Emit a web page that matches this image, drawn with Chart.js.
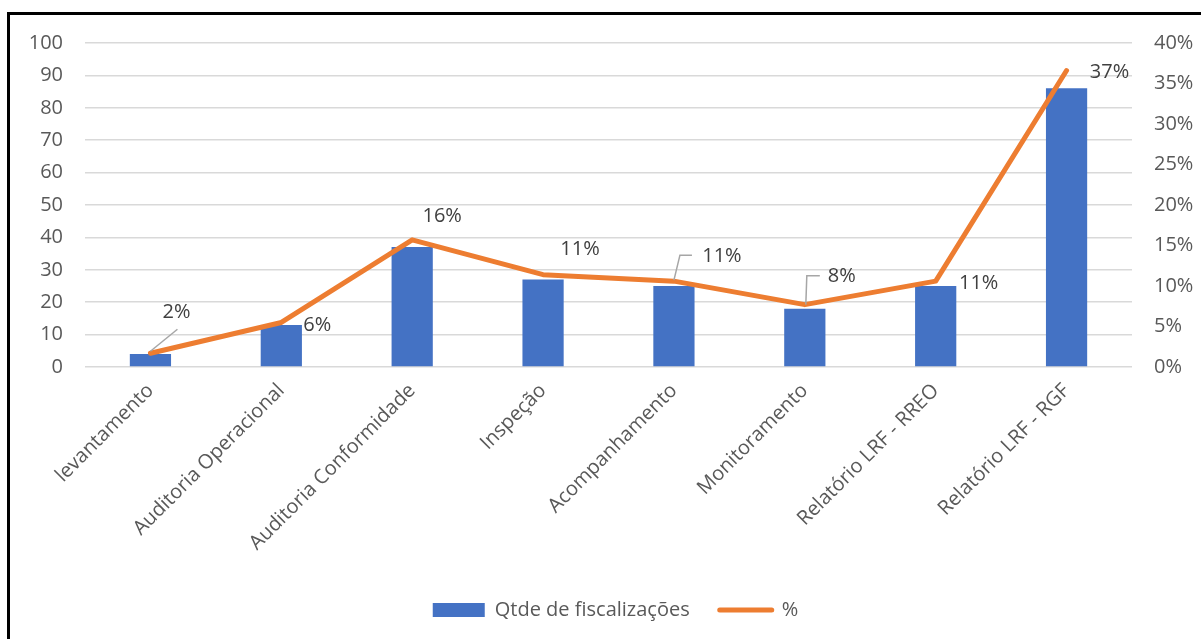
<!DOCTYPE html>
<html>
<head>
<meta charset="utf-8">
<script src="https://cdn.jsdelivr.net/npm/chart.js@4.4.1/dist/chart.umd.min.js"></script>
<style>
  html, body { margin: 0; padding: 0; background: #fff; overflow: hidden; }
  #frame { position: absolute; left: 7px; top: 12px; width: 1300px; height: 700px;
           border-left: 3px solid #000; border-top: 3px solid #000; }
  #wrap { position: absolute; left: 0; top: 0; width: 1201px; height: 660px; }
</style>
</head>
<body>
<div id="frame"></div>
<div id="wrap"><canvas id="chart" width="1201" height="660"></canvas></div>
<script>
// chart data
const categories = [
  "levantamento",
  "Auditoria Operacional",
  "Auditoria Conformidade",
  "Inspeção",
  "Acompanhamento",
  "Monitoramento",
  "Relatório LRF - RREO",
  "Relatório LRF - RGF",
];
const qtdeValues = [4, 13, 37, 27, 25, 18, 25, 86];
const pctValues = [1.7, 5.5, 15.7, 11.4, 10.6, 7.7, 10.6, 36.6];

// where each % label sits, relative to its point
const labelOffsets = [[26, -41], [36, 3], [30, -24], [37, -25], [48, -25], [37, -28], [43, 2], [43, 2]];
const leaderLines = {
  0: [[0, -2], [27, -24]],
  4: [[0, -1], [6, -26], [18, -26]],
  5: [[1, 0], [2, -29], [15, -29]],
};

const FONT = "'Open Sans', Lato, sans-serif";
const FSIZE = 20;
Chart.defaults.font.family = FONT;
Chart.defaults.font.size = FSIZE;
Chart.defaults.color = "#595959";

// draw the % labels on the line
const pctLabels = {
  id: "pctLabels",
  afterDatasetsDraw(chart) {
    const meta = chart.getDatasetMeta(1);
    const ctx = chart.ctx;
    ctx.save();
    meta.data.forEach((pt, i) => {
      const lead = leaderLines[i];
      if (lead) {
        ctx.strokeStyle = "#a6a6a6";
        ctx.lineWidth = 1.5;
        ctx.beginPath();
        lead.forEach(([dx, dy], k) => {
          if (k === 0) ctx.moveTo(pt.x + dx, pt.y + dy);
          else ctx.lineTo(pt.x + dx, pt.y + dy);
        });
        ctx.stroke();
      }
      const [dx, dy] = labelOffsets[i];
      ctx.fillStyle = "#404040";
      ctx.font = FSIZE + "px " + FONT;
      ctx.textAlign = "center";
      ctx.textBaseline = "middle";
      ctx.fillText(Math.round(pctValues[i]) + "%", pt.x + dx, pt.y + dy);
    });
    ctx.restore();
  },
};

new Chart(document.getElementById("chart"), {
  type: "bar",
  data: {
    labels: categories,
    datasets: [
      {
        type: "bar",
        label: "Qtde de fiscalizações",
        data: qtdeValues,
        backgroundColor: "#4472C4",
        borderWidth: 0,
        barPercentage: 0.315,
        categoryPercentage: 1,
        yAxisID: "y",
        order: 1,
      },
      {
        type: "line",
        label: "%",
        data: pctValues,
        borderColor: "#ED7D31",
        backgroundColor: "#ED7D31",
        borderWidth: 5,
        borderCapStyle: "round",
        borderJoinStyle: "round",
        pointRadius: 0,
        tension: 0,
        yAxisID: "y1",
        order: 0,
      },
    ],
  },
  options: {
    responsive: false,
    animation: false,
    layout: { padding: { top: 43, left: 30, right: 0, bottom: 30 } },
    plugins: {
      tooltip: { enabled: false },
      legend: {
        position: "bottom",
        reverse: true,
        labels: {
          usePointStyle: true,
          pointStyleWidth: 52,
          boxHeight: 14,
          padding: 30,
          color: "#595959",
          font: { size: FSIZE },
          generateLabels(chart) {
            const items = Chart.defaults.plugins.legend.labels.generateLabels(chart);
            items.forEach((it) => {
              if (it.datasetIndex === 0) {
                it.pointStyle = "rect";
                it.lineWidth = 0;
              } else {
                it.pointStyle = "line";
                it.lineWidth = 5;
                it.lineCap = "round";
              }
            });
            return items;
          },
        },
      },
    },
    scales: {
      x: {
        grid: { display: false, drawTicks: false },
        border: { display: false },
        ticks: { minRotation: 45, maxRotation: 45, padding: 12, color: "#595959", font: { size: FSIZE } },
        afterFit(axis) { axis.height = 203; },
      },
      y: {
        position: "left",
        min: 0,
        max: 100,
        ticks: { stepSize: 10, padding: 22, color: "#595959", font: { size: FSIZE } },
        grid: { color: "#d9d9d9", lineWidth: 1.5, drawTicks: false },
        border: { display: false },
        afterFit(axis) { axis.width = 55; },
      },
      y1: {
        position: "right",
        min: 0,
        max: 40,
        ticks: { stepSize: 5, padding: 22, color: "#595959", font: { size: FSIZE }, callback: (v) => v + "%" },
        grid: { display: false, drawTicks: false },
        border: { display: false },
        afterFit(axis) { axis.width = 69; },
      },
    },
  },
  plugins: [pctLabels],
});
</script>
</body>
</html>
